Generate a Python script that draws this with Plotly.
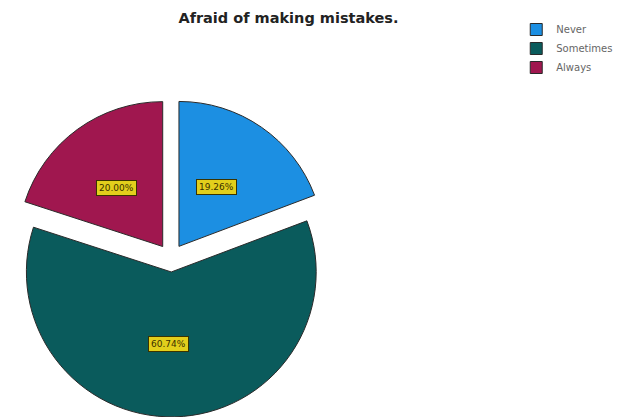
import math
import plotly.graph_objects as go

# Survey responses: "Afraid of making mistakes."
categories = ["Never", "Sometimes", "Always"]
percentages = [19.26, 60.74, 20.00]
colors = ["#1c8fe2", "#0a5b5c", "#a0174f"]
pulls = [0.097, 0.097, 0.097]

W, H = 619, 417
dom_x = [0.0194, 0.533]
dom_y = [0.0, 0.763]

fig = go.Figure(
    go.Pie(
        labels=categories,
        values=percentages,
        marker=dict(colors=colors, line=dict(color="#2a2a2a", width=1)),
        sort=False,
        direction="clockwise",
        rotation=0,
        pull=pulls,
        textinfo="none",
        hoverinfo="label+percent",
        domain=dict(x=dom_x, y=dom_y),
    )
)

# Percentage labels in yellow boxes, placed along each slice's mid-angle
cx = (dom_x[0] + dom_x[1]) / 2 * W
cy = (dom_y[0] + dom_y[1]) / 2 * H
box = min((dom_x[1] - dom_x[0]) * W, (dom_y[1] - dom_y[0]) * H)
radius = box / 2 / (1 + max(pulls))
total = sum(percentages)
start = 0.0
annotations = []
for pct, pull in zip(percentages, pulls):
    mid = (start + pct / 2) / total * 2 * math.pi
    start += pct
    dist = radius * (0.5 + pull)
    x = cx - 4 + dist * math.sin(mid)
    y = cy + dist * math.cos(mid)
    annotations.append(
        dict(
            x=x / W, y=y / H, xref="paper", yref="paper",
            xanchor="center", yanchor="middle",
            text=f"{pct:.2f}%", showarrow=False,
            font=dict(family="DejaVu Sans", size=9, color="#3a3000"),
            bgcolor="#e2cf1c", bordercolor="#3a3300", borderwidth=1, borderpad=2,
        )
    )

fig.update_layout(
    width=W,
    height=H,
    margin=dict(l=0, r=0, t=0, b=0),
    paper_bgcolor="white",
    plot_bgcolor="white",
    title=dict(
        text="<b>Afraid of making mistakes.</b>",
        x=0.466, xanchor="center", y=0.957, yanchor="middle",
        font=dict(family="DejaVu Sans", size=14.5, color="#222222"),
    ),
    legend=dict(
        x=0.834, y=0.964, xanchor="left", yanchor="top",
        font=dict(family="DejaVu Sans", size=10, color="#666666"),
        itemwidth=30, tracegroupgap=0,
        bgcolor="rgba(0,0,0,0)",
    ),
    annotations=annotations,
)

fig.write_html("out.html")
